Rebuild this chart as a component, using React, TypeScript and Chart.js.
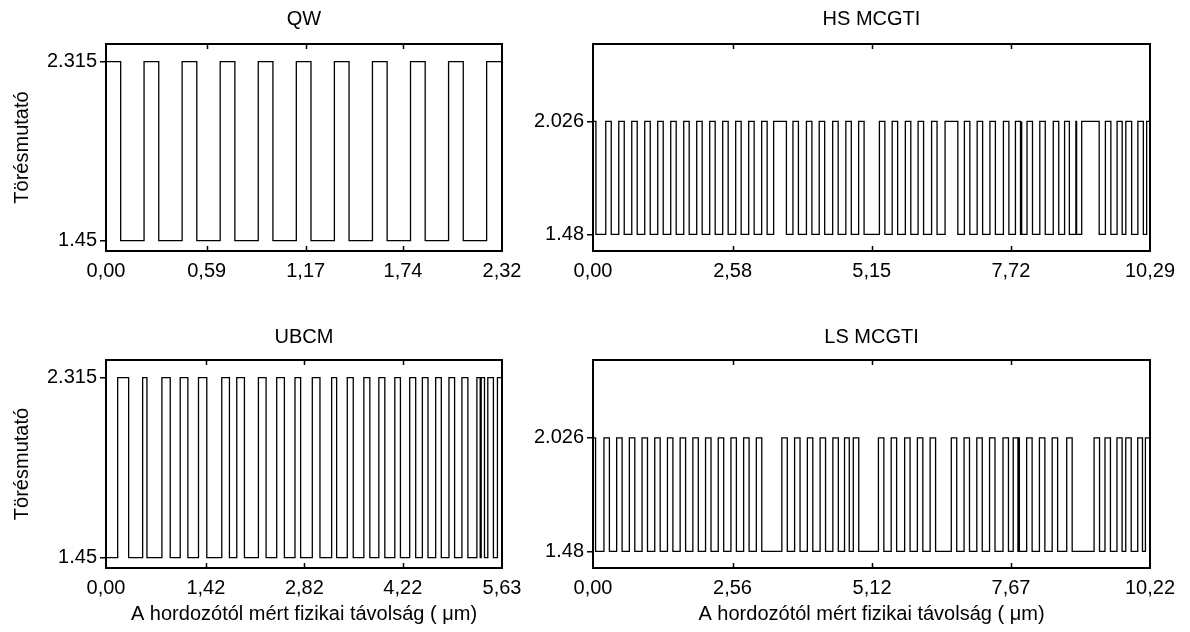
import React, { useEffect, useRef } from 'react';
import { Chart, registerables } from 'chart.js';

Chart.register(...registerables);

const FONT = "'Liberation Sans', Arial, Helvetica, sans-serif";

// ---------- data (layer thicknesses in nm, alternating materials) ----------
const yTitle = 'Törésmutató';
const xTitle = 'A hordozótól mért fizikai távolság ( μm)';
const yRange = [1.4, 2.4];

// QW
const qwTitle = 'QW';
const qwLevels = [2.315, 1.45]; // [high, low]
const qwStartHigh = true;
const qwLayers = [86, 137, 86, 137, 86, 137, 86, 137, 86, 137, 86, 137, 86, 137, 86, 137, 86, 137, 86, 137, 86];
const qwXTicks = [0, 0.59, 1.17, 1.74, 2.32];
const qwYTicks = [1.45, 2.315];
const qwYLabels = ['1.45', '2.315'];

// HS MCGTI
const hsTitle = 'HS MCGTI';
const hsLevels = [2.026, 1.48];
const hsStartHigh = true;
const hsLayers = [
  54, 182,
  101, 139, 101, 139, 101, 139, 101, 139, 101, 139, 101, 139,
  101, 139, 101, 139, 101, 139, 101, 139, 101, 139, 101, 139,
  101, 120,
  236,
  121,
  101, 148, 101, 135, 101, 148, 101, 142, 101, 135, 101,
  283,
  101, 135, 101, 142, 101, 135, 101, 148, 101, 148,
  236,
  121,
  101, 135, 101, 135, 101, 148, 101, 121,
  94, 13, 13, 94,
  101, 135, 101, 148, 101, 108, 88, 121,
  13, 94,
  323,
  115, 101, 115, 94, 67, 108, 115, 101, 61, 61,
];
const hsXTicks = [0, 2.58, 5.15, 7.72, 10.29];
const hsYTicks = [1.48, 2.026];
const hsYLabels = ['1.48', '2.026'];

// UBCM
const ubTitle = 'UBCM';
const ubLevels = [2.315, 1.45];
const ubStartHigh = false;
const ubLayers = [
  166, 156, 199, 61, 213, 118, 142, 109, 151, 118, 213, 109, 104, 109, 199, 109,
  151, 109, 151, 80, 166, 109, 166, 71, 151, 85, 151, 85, 128, 85, 142, 80,
  132, 85, 95, 80, 109, 80, 109, 80, 104, 85, 128, 47, 14, 47, 47, 80, 57, 64,
];
const ubXTicks = [0, 1.42, 2.82, 4.22, 5.63];
const ubYTicks = [1.45, 2.315];
const ubYLabels = ['1.45', '2.315'];

// LS MCGTI
const lsTitle = 'LS MCGTI';
const lsLevels = [2.026, 1.48];
const lsStartHigh = true;
const lsLayers = [
  47, 154,
  100, 133, 100, 133, 100, 133, 100, 133, 100, 133, 100, 133,
  100, 133, 100, 133, 100, 133, 100, 133, 100, 133, 100, 133,
  100,
  368,
  100, 134, 100, 134, 100, 134, 100, 134, 100, 114, 87, 74, 100,
  361,
  100, 134, 100, 147, 100, 134, 100, 134, 100,
  288,
  100, 134, 100, 134, 100, 134, 100, 147, 100, 87, 87, 13, 13, 134,
  100, 134, 100, 134, 100, 167, 100,
  402,
  100, 100, 100, 120, 94, 67, 100, 120, 87, 54, 84,
];
const lsXTicks = [0, 2.56, 5.12, 7.67, 10.22];
const lsYTicks = [1.48, 2.026];
const lsYLabels = ['1.48', '2.026'];

// ---------- helpers ----------
type PanelDef = {
  title: string;
  levels: number[];
  startHigh: boolean;
  layers: number[];
  xTicks: number[];
  yTicks: number[];
  yLabels: string[];
  showYTitle: boolean;
  showXTitle: boolean;
};

type Box = { left: number; top: number; width: number; height: number; yW: number; xH: number; tp: number; tb: number };

function buildPoints(layers: number[], startHigh: boolean, levels: number[]) {
  const pts: { x: number; y: number }[] = [];
  let x = 0;
  layers.forEach((t, i) => {
    const high = (i % 2 === 0) === startHigh;
    const n = high ? levels[0] : levels[1];
    const x1 = x + t / 1000;
    pts.push({ x, y: n }, { x: x1, y: n });
    x = x1;
  });
  return pts;
}

const fmtX = (v: number) => v.toFixed(2).replace('.', ',');

const framePlugin = {
  id: 'frame',
  afterDatasetsDraw(chart: any) {
    const { ctx, chartArea: a, scales } = chart;
    ctx.save();
    ctx.strokeStyle = '#000';
    ctx.lineWidth = 2;
    ctx.strokeRect(a.left, a.top, a.right - a.left, a.bottom - a.top);
    ctx.lineWidth = 1.5;
    const xs = scales.x;
    xs.ticks.forEach((t: any) => {
      const px = Math.round(xs.getPixelForValue(t.value)) + 0.5;
      if (px <= a.left + 2 || px >= a.right - 2) return;
      ctx.beginPath();
      ctx.moveTo(px, a.top);
      ctx.lineTo(px, a.top + 5);
      ctx.moveTo(px, a.bottom);
      ctx.lineTo(px, a.bottom - 5);
      ctx.stroke();
    });
    ctx.restore();
  },
};

function Panel({ def, box }: { def: PanelDef; box: Box }) {
  const ref = useRef<HTMLCanvasElement | null>(null);
  useEffect(() => {
    if (!ref.current) return;
    const font = { family: FONT, size: 20, weight: 'normal' as const };
    const xLabels = def.xTicks.map(fmtX);
    const chart = new Chart(ref.current, {
      type: 'line',
      data: {
        datasets: [
          {
            data: buildPoints(def.layers, def.startHigh, def.levels),
            borderColor: '#000',
            borderWidth: 1.3,
            pointRadius: 0,
            fill: false,
            tension: 0,
            xAxisID: 'x',
            yAxisID: 'y',
          } as any,
        ],
      },
      options: {
        animation: false,
        responsive: false,
        devicePixelRatio: 1,
        events: [],
        layout: { padding: 0 },
        plugins: {
          legend: { display: false },
          tooltip: { enabled: false },
          title: {
            display: true,
            text: def.title,
            color: '#000',
            font,
            padding: { top: box.tp, bottom: box.tb },
          },
        },
        scales: {
          x: {
            type: 'linear',
            position: 'bottom',
            min: 0,
            max: def.xTicks[def.xTicks.length - 1],
            afterBuildTicks: (s: any) => {
              s.ticks = def.xTicks.map((v) => ({ value: v }));
            },
            afterFit: (s: any) => {
              s.height = box.xH;
            },
            grid: { display: false, drawTicks: false },
            border: { display: false },
            ticks: {
              autoSkip: false,
              maxRotation: 0,
              minRotation: 0,
              padding: 8,
              color: '#000',
              font,
              callback: (_v: any, i: number) => xLabels[i],
            },
            title: {
              display: def.showXTitle,
              text: xTitle,
              color: '#000',
              font,
              padding: { top: 0, bottom: 6 },
            },
          },
          y: {
            type: 'linear',
            position: 'left',
            min: yRange[0],
            max: yRange[1],
            afterBuildTicks: (s: any) => {
              s.ticks = def.yTicks.map((v) => ({ value: v }));
            },
            afterFit: (s: any) => {
              s.width = box.yW;
            },
            grid: { display: true, drawOnChartArea: false, drawTicks: true, tickLength: 6, color: '#000', lineWidth: 1.5 },
            border: { display: false },
            ticks: {
              autoSkip: false,
              padding: 3,
              color: '#000',
              font,
              callback: (_v: any, i: number) => def.yLabels[i],
            },
            title: {
              display: def.showYTitle,
              text: yTitle,
              color: '#000',
              font,
              padding: { top: 10, bottom: 0 },
            },
          },
          yR: {
            type: 'linear',
            position: 'right',
            display: true,
            grid: { display: false, drawTicks: false },
            border: { display: false },
            ticks: { display: false },
            afterFit: (s: any) => {
              s.width = box.yW;
            },
          },
        },
      } as any,
      plugins: [framePlugin],
    });
    return () => chart.destroy();
  }, [def, box]);
  return (
    <canvas
      ref={ref}
      width={box.width}
      height={box.height}
      style={{ position: 'absolute', left: box.left, top: box.top, width: box.width, height: box.height }}
    />
  );
}

const panels: { def: PanelDef; box: Box }[] = [
  {
    def: { title: qwTitle, levels: qwLevels, startHigh: qwStartHigh, layers: qwLayers, xTicks: qwXTicks, yTicks: qwYTicks, yLabels: qwYLabels, showYTitle: true, showXTitle: false },
    box: { left: 0, top: 0, width: 608, height: 300, yW: 106, xH: 49, tp: 7, tb: 13 },
  },
  {
    def: { title: hsTitle, levels: hsLevels, startHigh: hsStartHigh, layers: hsLayers, xTicks: hsXTicks, yTicks: hsYTicks, yLabels: hsYLabels, showYTitle: false, showXTitle: false },
    box: { left: 523, top: 0, width: 697, height: 300, yW: 70, xH: 49, tp: 7, tb: 13 },
  },
  {
    def: { title: ubTitle, levels: ubLevels, startHigh: ubStartHigh, layers: ubLayers, xTicks: ubXTicks, yTicks: ubYTicks, yLabels: ubYLabels, showYTitle: true, showXTitle: true },
    box: { left: 0, top: 316, width: 608, height: 316, yW: 106, xH: 64, tp: 9, tb: 11 },
  },
  {
    def: { title: lsTitle, levels: lsLevels, startHigh: lsStartHigh, layers: lsLayers, xTicks: lsXTicks, yTicks: lsYTicks, yLabels: lsYLabels, showYTitle: false, showXTitle: true },
    box: { left: 523, top: 316, width: 697, height: 316, yW: 70, xH: 64, tp: 9, tb: 11 },
  },
];

export default function App() {
  return (
    <div
      style={{
        position: 'absolute',
        left: 0,
        top: 0,
        width: 1190,
        height: 632,
        overflow: 'hidden',
        background: '#fff',
      }}
    >
      {panels.map((p, i) => (
        <Panel key={i} def={p.def} box={p.box} />
      ))}
    </div>
  );
}
